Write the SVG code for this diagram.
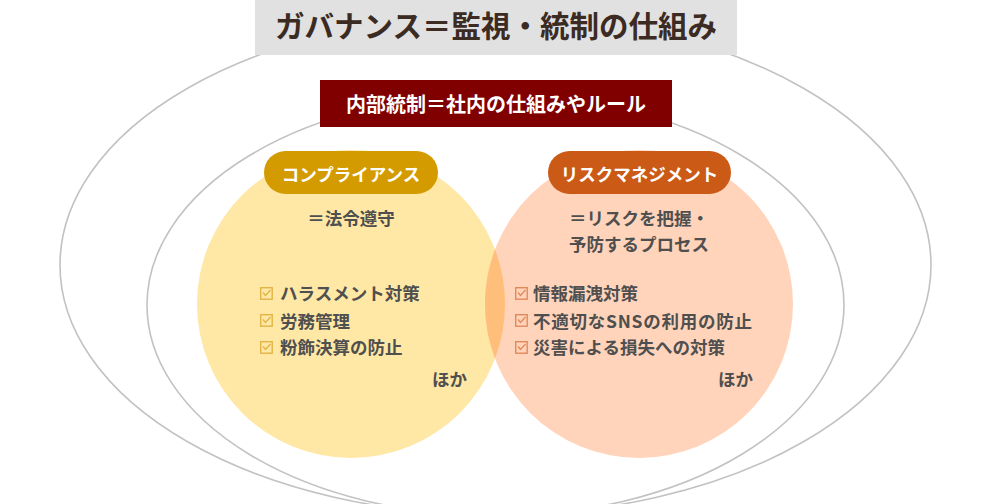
<svg xmlns="http://www.w3.org/2000/svg" width="990" height="504" viewBox="0 0 990 504">
<style>
.ring{fill:none;stroke:#c2c2c2;stroke-width:1.6}
.t{font-family:"Noto Sans CJK JP","Noto Sans",sans-serif;font-weight:bold}
.w{fill:#ffffff}
.g{fill:#4f4f4f;font-size:17.5px}
.cbY{fill:none;stroke:#e2b546;stroke-width:1.4}
.cbO{fill:none;stroke:#e08a5c;stroke-width:1.4}
</style>
<defs>
<g id="chk">
<rect x="0.7" y="0.7" width="11.5" height="11.5"/>
<polyline points="3,5.5 5.5,8.5 10.5,3"/>
</g>
</defs>
<rect width="990" height="504" fill="#ffffff"/>
<g id="governance">
<ellipse class="ring" cx="495.5" cy="265" rx="435.5" ry="250"/>
</g>
<g id="internal-control">
<ellipse class="ring" cx="495.5" cy="305" rx="348.5" ry="211"/>
</g>
<g id="compliance">
<circle cx="351" cy="304" r="154" fill="#ffe7a5"/>
</g>
<g id="risk-management">
<circle cx="639" cy="304" r="154" fill="#ffd4bb"/>
</g>
<g id="overlap">
<path d="M495 249.4 A154 154 0 0 1 495 358.6 A154 154 0 0 1 495 249.4 Z" fill="#ffbf7a"/>
</g>
<g id="connectors"></g>
<g id="governance-label">
<rect x="255" y="0" width="482" height="55" fill="#e1e1e1"/>
<text class="t" x="496" y="37" font-size="29.5" fill="#3b2b22" text-anchor="middle">ガバナンス＝監視・統制の仕組み</text>
</g>
<g id="internal-control-label">
<rect x="320" y="80" width="352" height="47" fill="#800000"/>
<text class="t w" x="496" y="112" font-size="20" text-anchor="middle">内部統制＝社内の仕組みやルール</text>
</g>
<g id="compliance-label">
<rect x="264" y="151" width="174" height="43" rx="21.5" fill="#d39b00"/>
<text class="t w" x="351" y="180.5" font-size="17.5" text-anchor="middle">コンプライアンス</text>
<text class="t g" x="351" y="224.5" text-anchor="middle">＝法令遵守</text>
<use href="#chk" x="260" y="287" class="cbY"/>
<use href="#chk" x="260" y="314" class="cbY"/>
<use href="#chk" x="260" y="341" class="cbY"/>
<text class="t g" x="280" y="300">ハラスメント対策</text>
<text class="t g" x="280" y="327.5">労務管理</text>
<text class="t g" x="280" y="354">粉飾決算の防止</text>
<text class="t g" x="432" y="386">ほか</text>
</g>
<g id="risk-management-label">
<rect x="548" y="151" width="183" height="43" rx="21.5" fill="#cb5a17"/>
<text class="t w" x="639.5" y="180.5" font-size="17.5" text-anchor="middle">リスクマネジメント</text>
<text class="t g" x="639" y="224.5" text-anchor="middle">＝リスクを把握・</text>
<text class="t g" x="639" y="250.5" text-anchor="middle">予防するプロセス</text>
<use href="#chk" x="515" y="287" class="cbO"/>
<use href="#chk" x="515" y="314" class="cbO"/>
<use href="#chk" x="515" y="341" class="cbO"/>
<text class="t g" x="533" y="300">情報漏洩対策</text>
<text class="t g" x="533" y="327.5" textLength="219" lengthAdjust="spacing">不適切なSNSの利用の防止</text>
<text class="t g" x="533" y="354">災害による損失への対策</text>
<text class="t g" x="718" y="386">ほか</text>
</g>
</svg>
